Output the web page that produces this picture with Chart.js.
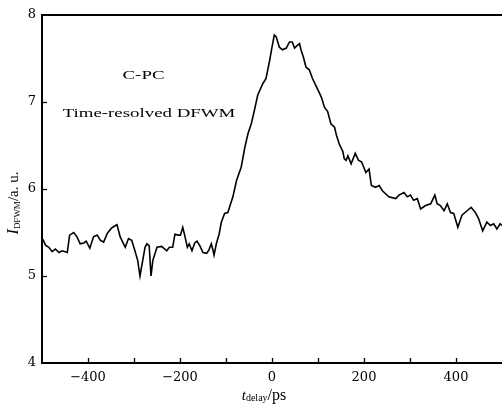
<!DOCTYPE html>
<html>
<head>
<meta charset="utf-8">
<script src="https://cdn.jsdelivr.net/npm/chart.js@4/dist/chart.umd.min.js"></script>
<style>
html,body{margin:0;padding:0;background:#fff;}
#wrap{width:502px;height:411px;position:relative;}
</style>
</head>
<body>
<div id="wrap"><canvas id="c" width="502" height="411"></canvas></div>
<script>
const delays = [-500,-497,-492,-485,-478,-471,-463,-456,-445,-440,-431,-424,-417,-409,-404,-396,-388,-380,-373,-366,-358,-349,-340,-337,-330,-319,-312,-305,-298,-292,-287,-281,-276,-272,-267,-263,-259,-250,-240,-233,-229,-223,-216,-211,-204,-199,-194,-189,-184,-180,-174,-168,-163,-157,-150,-142,-137,-132,-128,-126,-121,-115,-110,-103,-96,-90,-85,-77,-67,-59,-52,-45,-38,-31,-20,-13,-5,0,5,9,16,23,31,38,44,49,55,60,63,68,74,81,88,97,107,114,121,128,136,140,146,154,157,161,165,172,181,188,195,204,211,216,225,233,240,254,269,276,287,294,301,308,316,323,334,345,354,359,366,374,381,388,395,404,413,424,433,442,449,458,467,475,482,489,496,500];
const intensities = [5.43,5.41,5.35,5.33,5.28,5.31,5.27,5.29,5.27,5.47,5.50,5.45,5.37,5.38,5.40,5.32,5.45,5.47,5.41,5.39,5.49,5.55,5.58,5.59,5.45,5.33,5.43,5.41,5.29,5.18,5.00,5.18,5.33,5.37,5.35,5.00,5.18,5.33,5.34,5.31,5.29,5.33,5.33,5.48,5.47,5.47,5.56,5.45,5.33,5.37,5.29,5.38,5.40,5.35,5.27,5.26,5.30,5.37,5.29,5.24,5.37,5.48,5.62,5.72,5.73,5.83,5.91,6.10,6.25,6.48,6.64,6.75,6.91,7.08,7.21,7.27,7.48,7.63,7.77,7.75,7.63,7.60,7.62,7.69,7.69,7.62,7.65,7.67,7.60,7.52,7.40,7.37,7.27,7.17,7.06,6.94,6.89,6.75,6.71,6.62,6.52,6.43,6.35,6.33,6.38,6.29,6.41,6.33,6.31,6.19,6.23,6.04,6.02,6.04,5.98,5.91,5.89,5.93,5.96,5.91,5.93,5.87,5.89,5.77,5.81,5.83,5.93,5.83,5.81,5.75,5.83,5.73,5.72,5.56,5.70,5.75,5.79,5.73,5.66,5.52,5.62,5.58,5.60,5.54,5.60,5.58];
const xTickLabels = {"-400":"\u2212400","-200":"\u2212200","0":"0","200":"200","400":"400"};
const yTickLabels = {"4":"4","5":"5","6":"6","7":"7","8":"8"};
const annotations = ["C-PC","Time-resolved DFWM"];

const points = delays.map((d,i)=>({x:d,y:intensities[i]}));
const FONT = '"Liberation Serif", "DejaVu Serif", serif';
const TFONT = '"DejaVu Serif", serif';

const decor = {
  id:'decor',
  afterDraw(chart){
    const ctx = chart.ctx, a = chart.chartArea;
    const xs = chart.scales.x, ys = chart.scales.y;
    ctx.save();
    ctx.strokeStyle = '#000';
    ctx.lineWidth = 2;
    ctx.beginPath(); ctx.moveTo(a.left-1, a.top); ctx.lineTo(a.right, a.top); ctx.stroke();
    ctx.lineWidth = 1.3;
    for (let v=-400; v<=400; v+=100){
      const px = Math.round(xs.getPixelForValue(v))+0.5;
      ctx.beginPath(); ctx.moveTo(px, a.bottom); ctx.lineTo(px, a.bottom-5); ctx.stroke();
    }
    for (let v=5; v<=7; v++){
      const py = Math.round(ys.getPixelForValue(v))+0.5;
      ctx.beginPath(); ctx.moveTo(a.left, py); ctx.lineTo(a.left+5, py); ctx.stroke();
    }
    ctx.fillStyle = '#000';
    ctx.textAlign = 'center'; ctx.textBaseline = 'alphabetic';
    ctx.font = '13px ' + FONT;
    [[annotations[0],143.5,78.5],[annotations[1],149,117]].forEach(t=>{
      ctx.save(); ctx.translate(t[1], t[2]); ctx.scale(1.45,1); ctx.fillText(t[0],0,0); ctx.restore();
    });
    const xt = 264, yt = 400;
    ctx.textAlign = 'left';
    const parts = [['italic 15px ','t',0],['10px ','delay',1],['16px ','/ps',0]];
    let total = 0;
    parts.forEach(p=>{ctx.font=p[0]+FONT; total += ctx.measureText(p[1]).width;});
    let cx = xt - total/2;
    parts.forEach(p=>{ctx.font=p[0]+FONT; ctx.fillText(p[1], cx, yt+p[2]); cx += ctx.measureText(p[1]).width;});
    ctx.translate(13, 203);
    ctx.rotate(-Math.PI/2);
    const yparts = [['italic 16px ','I',0],['9px ','DFWM',2],['15px ','/a. u.',0]];
    total = 0;
    yparts.forEach(p=>{ctx.font=p[0]+FONT; total += ctx.measureText(p[1]).width;});
    cx = -total/2;
    yparts.forEach(p=>{ctx.font=p[0]+FONT; ctx.fillText(p[1], cx, 5+p[2]); cx += ctx.measureText(p[1]).width;});
    ctx.restore();
  }
};

new Chart(document.getElementById('c'), {
  type:'line',
  data:{datasets:[{data:points, borderColor:'#000', borderWidth:1.6, pointRadius:0, tension:0, fill:false}]},
  options:{
    responsive:false, animation:false, devicePixelRatio:1,
    layout:{padding:{top:15,right:0,left:0,bottom:0}},
    plugins:{legend:{display:false}, tooltip:{enabled:false}},
    scales:{
      x:{type:'linear', min:-500, max:500,
        afterFit(s){s.height = 48; s.paddingRight = 0; s.paddingLeft = 0;},
        grid:{display:false, drawTicks:false},
        border:{display:true, color:'#000', width:2},
        ticks:{stepSize:100, autoSkip:false, maxRotation:0, padding:7, color:'#000',
          font:{family:TFONT, size:13},
          callback:(v)=> xTickLabels[String(v)] ?? ''}
      },
      y:{type:'linear', min:4, max:8,
        afterFit(s){s.width = 42;},
        grid:{display:false, drawTicks:false},
        border:{display:true, color:'#000', width:2},
        ticks:{stepSize:1, padding:6, color:'#000',
          font:{family:TFONT, size:13},
          callback:(v)=> yTickLabels[String(v)] ?? ''}
      }
    }
  },
  plugins:[decor]
});
</script>
</body>
</html>
